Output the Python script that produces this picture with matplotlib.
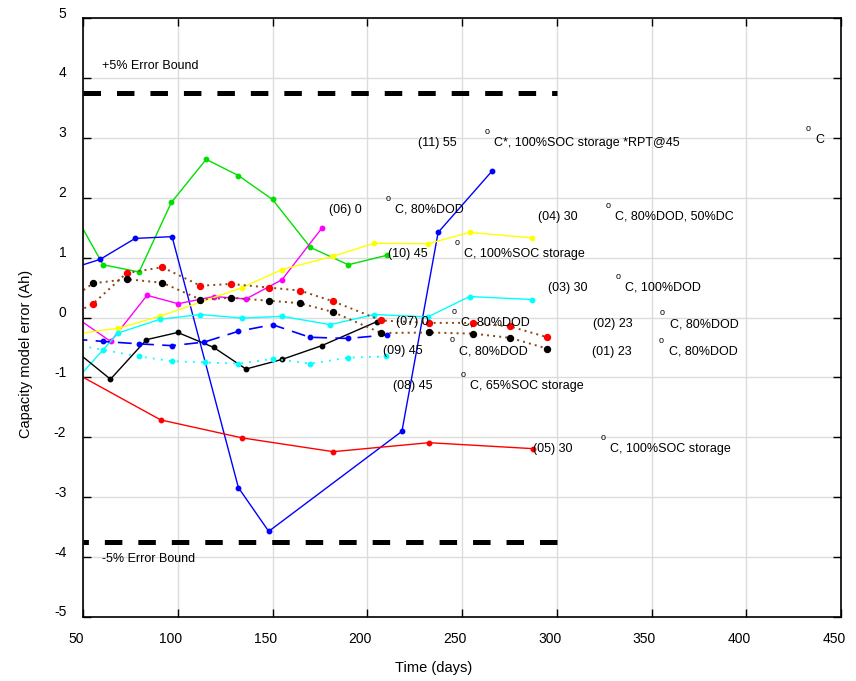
import matplotlib
matplotlib.use("Agg")
import matplotlib.pyplot as plt
import matplotlib.transforms as mtransforms

plt.rcParams['font.family'] = ['Liberation Sans', 'DejaVu Sans']
plt.rcParams['lines.scale_dashes'] = False
plt.rcParams['axes.unicode_minus'] = False

# --- data (days, capacity model error in Ah) ---
green_days = [45, 60.6, 79.6, 96.6, 115, 132, 150, 170, 190, 210.5]
green_err = [1.76, 0.88, 0.76, 1.92, 2.64, 2.37, 1.97, 1.17, 0.88, 1.04]

blue_days = [45, 59, 77.5, 97, 132, 148, 218.3, 237.4, 266]
blue_err = [0.83, 0.97, 1.32, 1.35, -2.84, -3.57, -1.90, 1.42, 2.45]

magenta_days = [45, 64.6, 83.8, 100.2, 119, 136, 155, 176]
magenta_err = [0.03, -0.40, 0.37, 0.23, 0.35, 0.31, 0.63, 1.49]

yellow_days = [45, 68.5, 90.6, 134, 155, 181.7, 203.7, 232, 254, 287]
yellow_err = [-0.28, -0.18, 0.02, 0.50, 0.80, 1.02, 1.24, 1.23, 1.42, 1.33]

cyan_days = [45, 68.5, 90.6, 112, 134, 155, 180.4, 203.7, 232, 254, 287]
cyan_err = [-1.09, -0.26, -0.03, 0.05, -0.01, 0.02, -0.12, 0.05, 0.01, 0.35, 0.30]

black_days = [45, 64.5, 83.5, 100, 119, 136, 155, 176, 205]
black_err = [-0.53, -1.03, -0.37, -0.25, -0.50, -0.86, -0.70, -0.47, -0.07]

red_days = [45, 91, 134, 182, 232.6, 287.7]
red_err = [-0.91, -1.71, -2.01, -2.24, -2.09, -2.19]

bluedash_days = [45, 60.6, 79.6, 97, 114, 132, 150, 169.7, 190, 210.4]
bluedash_err = [-0.36, -0.40, -0.44, -0.47, -0.41, -0.23, -0.12, -0.33, -0.35, -0.29]

cyandot_days = [45, 60.6, 79.6, 97, 114.6, 132, 150.5, 170, 190, 210]
cyandot_err = [-0.45, -0.54, -0.65, -0.73, -0.75, -0.77, -0.69, -0.77, -0.67, -0.65]

dotted_days = [45, 55.3, 73, 91.8, 112, 128, 148, 164.4, 182, 207.5, 232.6, 256, 275.5, 295]
reddot_err = [0.06, 0.23, 0.74, 0.84, 0.53, 0.56, 0.50, 0.45, 0.27, -0.05, -0.09, -0.09, -0.15, -0.33]
blackdot_err = [0.34, 0.57, 0.64, 0.58, 0.30, 0.33, 0.28, 0.24, 0.09, -0.26, -0.25, -0.27, -0.34, -0.52]

bound_days = [50, 300]
bound_value = 3.75

# cell labels: (id + temperature, x of id, description, x of description, y)
cell_notes = [
    ("(11) 55", 226.7, "C*, 100%SOC storage *RPT@45", 267.0, 2.92),
    ("(06) 0", 179.7, "C, 80%DOD", 214.6, 1.80),
    ("(04) 30", 290.2, "C, 80%DOD, 50%DC", 330.6, 1.68),
    ("(10) 45", 210.8, "C, 100%SOC storage", 251.0, 1.06),
    ("(03) 30", 295.5, "C, 100%DOD", 335.9, 0.50),
    ("(07) 0", 215.2, "C, 80%DOD", 249.6, -0.08),
    ("(02) 23", 319.3, "C, 80%DOD", 359.5, -0.11),
    ("(09) 45", 208.1, "C, 80%DOD", 248.5, -0.56),
    ("(01) 23", 318.4, "C, 80%DOD", 359.0, -0.57),
    ("(08) 45", 213.4, "C, 65%SOC storage", 254.0, -1.14),
    ("(05) 30", 287.5, "C, 100%SOC storage", 328.1, -2.19),
    ("", None, "C", 436.5, 2.97),
]

fig = plt.figure(figsize=(8.56, 6.81), dpi=100)
ax = fig.add_axes([83 / 856, 1 - 617 / 681, 758 / 856, 599 / 681])

ms = 3.2
ax.plot(green_days, green_err, color='#00e000', lw=1.0, marker='o', ms=ms)
ax.plot(blue_days, blue_err, color='#0000ff', lw=1.0, marker='o', ms=ms)
ax.plot(magenta_days, magenta_err, color='#ff00ff', lw=1.0, marker='o', ms=ms)
ax.plot(yellow_days, yellow_err, color='#ffff00', lw=1.0, marker='o', ms=ms)
ax.plot(cyan_days, cyan_err, color='#00ffff', lw=1.0, marker='o', ms=ms)
ax.plot(black_days, black_err, color='black', lw=1.0, marker='o', ms=ms)
ax.plot(red_days, red_err, color='#ff0000', lw=1.0, marker='o', ms=ms)
ax.plot(bluedash_days, bluedash_err, color='#0000ff', lw=1.2, dashes=(10, 6),
        marker='o', ms=ms)
ax.plot(cyandot_days, cyandot_err, color='#00ffff', lw=1.3, dashes=(1.3, 4.5),
        marker='o', ms=ms)
# dotted series: brown dots, coloured markers
ax.plot(dotted_days, reddot_err, color='#8b4513', lw=1.4, dashes=(1.4, 3),
        marker='o', ms=4.3, mfc='#ff0000', mec='#ff0000')
ax.plot(dotted_days, blackdot_err, color='#8b4513', lw=1.4, dashes=(1.4, 3),
        marker='o', ms=4.3, mfc='black', mec='black')

# +/-5% error bounds
ax.plot(bound_days, [bound_value] * 2, color='black', lw=3.6, dashes=(12.6, 11.5))
ax.plot(bound_days[::-1], [-bound_value] * 2, color='black', lw=3.6, dashes=(12.6, 11.5))
ax.text(59.9, 4.195, '+5% Error Bound', fontsize=9, va='center')
ax.text(59.9, -4.04, '-5% Error Bound', fontsize=9, va='center')

for tag, tag_x, desc, x, y in cell_notes:
    if tag:
        ax.text(tag_x, y, tag, fontsize=9, va='center')
    ax.text(x, y, desc, fontsize=9, va='center')
    ax.annotate('o', (x, y), xytext=(-5, 8), textcoords='offset points',
                ha='center', va='center', fontsize=6.5)

ax.set_xlim(50, 450)
ax.set_ylim(-5, 5)
ax.set_xticks(range(50, 451, 50))
ax.set_yticks(range(-5, 6))
ax.grid(True, color='#dcdcdc', lw=1.0)
ax.set_axisbelow(True)
ax.tick_params(direction='in', length=6, width=1, top=True, right=True,
               labelsize=10, colors='black')
ax.tick_params(axis='x', pad=11)
ax.tick_params(axis='y', pad=12)
for sp in ax.spines.values():
    sp.set_color('black')
    sp.set_linewidth(1.2)

# the reference has its tick labels nudged left / up
shift_x = mtransforms.ScaledTranslation(-7 / 100, 0, fig.dpi_scale_trans)
shift_y = mtransforms.ScaledTranslation(0, 6 / 100, fig.dpi_scale_trans)
for lab in ax.get_xticklabels():
    lab.set_transform(lab.get_transform() + shift_x)
for lab in ax.get_yticklabels():
    lab.set_transform(lab.get_transform() + shift_y)

ax.set_xlabel('Time (days)', fontsize=10.5)
ax.xaxis.set_label_coords(0.463, -0.074)
ax.set_ylabel('Capacity model error (Ah)', fontsize=10.5)
ax.yaxis.set_label_coords(-0.066, 0.44)

fig.savefig('out.png', dpi=100)
